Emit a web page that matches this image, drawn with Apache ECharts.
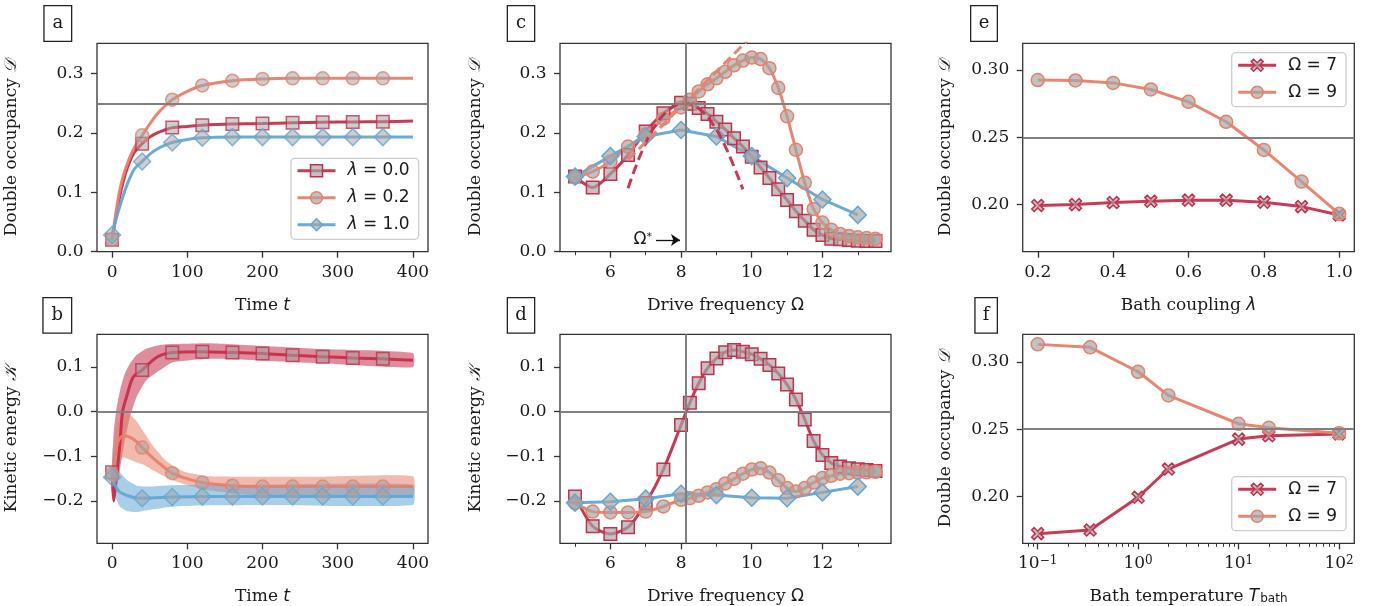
<!DOCTYPE html>
<html><head><meta charset="utf-8">
<script src="https://cdn.jsdelivr.net/npm/echarts@6/dist/echarts.min.js"></script>
<style>html,body{margin:0;padding:0;background:#fff}#c{width:1376px;height:606px}</style>
</head><body><div id="c"></div><script>
// ---------------- DATA ----------------
// Panel a : double occupancy vs time
const tA     = [0,5,10,15,20,25,30,40,50,60,70,80,100,120,160,200,240,280,320,360,400];
const aRed   = [0.020,0.058,0.092,0.119,0.140,0.156,0.168,0.182,0.193,0.200,0.205,0.209,0.211,0.213,0.215,0.216,0.217,0.218,0.2185,0.219,0.220];
const aOrg   = [0.021,0.064,0.102,0.128,0.147,0.163,0.176,0.196,0.215,0.232,0.245,0.256,0.270,0.280,0.288,0.291,0.292,0.292,0.292,0.292,0.292];
const aBlue  = [0.028,0.053,0.075,0.095,0.113,0.128,0.140,0.152,0.164,0.173,0.179,0.184,0.189,0.192,0.193,0.193,0.193,0.193,0.193,0.193,0.193];
const tMk    = [0,40,80,120,160,200,240,280,320,360];
const aRedMk = [0.020,0.182,0.209,0.213,0.215,0.216,0.217,0.218,0.2185,0.219];
const aOrgMk = [0.021,0.196,0.256,0.280,0.288,0.291,0.292,0.292,0.292,0.292];
const aBlueMk= [0.028,0.152,0.184,0.192,0.193,0.193,0.193,0.193,0.193,0.193];
// Panel b : kinetic energy vs time
const tBR   = [0,2,5,8,11,14,20,28,40,60,80,120,160,200,240,280,320,360,400];
const bRed  = [-0.136,-0.200,-0.160,-0.115,-0.060,0.000,0.037,0.077,0.093,0.122,0.132,0.134,0.132,0.130,0.126,0.123,0.120,0.118,0.115];
const tBRb  = [0,2,6,11,17,24,33,46,64,80,130,200,280,400];
const bRedHi= [-0.125,-0.050,0.008,0.050,0.085,0.108,0.127,0.141,0.149,0.151,0.153,0.147,0.140,0.131];
const bRedLo= [-0.150,-0.205,-0.170,-0.125,-0.065,-0.011,0.034,0.071,0.093,0.110,0.118,0.114,0.108,0.099];
const tBO   = [0,4,8,12,17,24,33,40,55,73,80,95,120,160,200,240,280,320,360,400];
const bOrg  = [-0.140,-0.097,-0.067,-0.057,-0.055,-0.058,-0.068,-0.0805,-0.105,-0.130,-0.138,-0.148,-0.159,-0.166,-0.168,-0.168,-0.168,-0.168,-0.168,-0.168];
const tBOb  = [0,4,8,15,24,33,42,55,73,95,130,200,280,400];
const bOrgHi= [-0.130,-0.060,-0.020,-0.007,-0.007,-0.022,-0.045,-0.078,-0.112,-0.134,-0.145,-0.146,-0.146,-0.145];
const bOrgLo= [-0.150,-0.135,-0.115,-0.103,-0.108,-0.114,-0.119,-0.132,-0.148,-0.162,-0.177,-0.190,-0.190,-0.190];
const tBB   = [0,4,10,20,30,40,80,120,160,200,240,280,320,360,400];
const bBlue = [-0.147,-0.165,-0.180,-0.188,-0.193,-0.194,-0.1915,-0.190,-0.190,-0.190,-0.190,-0.190,-0.190,-0.190,-0.190];
const tBBb  = [0,1,4,10,20,33,46,80,130,200,400];
const bBlueHi=[-0.140,-0.080,-0.108,-0.134,-0.153,-0.166,-0.168,-0.165,-0.164,-0.164,-0.164];
const bBlueLo=[-0.150,-0.200,-0.190,-0.212,-0.223,-0.225,-0.221,-0.213,-0.210,-0.209,-0.209];
const bRedMk = [-0.136,0.093,0.132,0.134,0.132,0.130,0.126,0.123,0.120,0.118];
const bOrgMk = [-0.140,-0.0805,-0.138,-0.159,-0.166,-0.168,-0.168,-0.168,-0.168,-0.168];
const bBlueMk= [-0.147,-0.194,-0.1915,-0.190,-0.190,-0.190,-0.190,-0.190,-0.190,-0.190];
// Panels c, d : vs drive frequency
const omF   = [5,5.5,6,6.5,7,7.5,8,8.25,8.5,8.75,9,9.25,9.5,9.75,10,10.25,10.5,10.75,11,11.25,11.5,11.75,12,12.25,12.5,12.75,13,13.25,13.5];
const cRed  = [0.1265,0.108,0.131,0.163,0.2025,0.233,0.251,0.249,0.242,0.232,0.219,0.206,0.191,0.177,0.160,0.142,0.124,0.105,0.087,0.068,0.052,0.037,0.028,0.022,0.021,0.0197,0.0186,0.018,0.018];
const cOrg  = [0.125,0.135,0.152,0.177,0.198,0.224,0.243,0.256,0.270,0.282,0.292,0.303,0.314,0.322,0.327,0.3245,0.309,0.276,0.228,0.1715,0.116,0.072,0.049,0.037,0.030,0.0265,0.0243,0.023,0.022];
const omB   = [5,6,7,8,9,10,11,12,13];
const cBlue = [0.1265,0.161,0.194,0.205,0.194,0.161,0.124,0.088,0.062];
const omDR  = [6.5,6.9,7.3,7.7,8.1,8.5,8.9,9.3,9.75];
const cDashRed = [0.107,0.170,0.215,0.241,0.250,0.241,0.215,0.171,0.105];
const omDO  = [6.5,8.1,9.95];
const cDashOrg = [0.155,0.250,0.360];
const dRed  = [-0.190,-0.257,-0.274,-0.259,-0.205,-0.130,-0.030,0.020,0.0635,0.097,0.119,0.133,0.138,0.134,0.1285,0.118,0.1045,0.085,0.0605,0.027,-0.018,-0.066,-0.097,-0.115,-0.123,-0.127,-0.129,-0.131,-0.133];
const dOrg  = [-0.205,-0.224,-0.226,-0.226,-0.224,-0.2125,-0.1975,-0.194,-0.1886,-0.181,-0.1737,-0.161,-0.151,-0.139,-0.130,-0.127,-0.1365,-0.154,-0.1714,-0.179,-0.1714,-0.159,-0.149,-0.144,-0.139,-0.138,-0.1365,-0.136,-0.135];
const dBlue = [-0.204,-0.202,-0.195,-0.184,-0.187,-0.193,-0.194,-0.181,-0.168];
const omStar = 8.12;
// Panel e : vs bath coupling
const lamE  = [0.2,0.3,0.4,0.5,0.6,0.7,0.8,0.9,1.0];
const e7    = [0.1993,0.2000,0.2015,0.2025,0.2033,0.2033,0.2018,0.1985,0.1923];
const e9    = [0.2925,0.2922,0.2904,0.2855,0.2763,0.2615,0.2406,0.2171,0.1931];
// Panel f : vs bath temperature
const tempF = [0.1,0.333,1,2,10,20,100];
const f7    = [0.1722,0.1749,0.1993,0.2203,0.2426,0.2451,0.2464];
const f9    = [0.3131,0.3109,0.2927,0.2751,0.2540,0.2510,0.2469];
// tick labels
const ticksT   = [0,100,200,300,400];
const ticksDa  = [0,0.1,0.2,0.3];
const ticksK   = [-0.2,-0.1,0,0.1];
const ticksOm  = [6,8,10,12];
const ticksOmMinor = [5,7,9,11,13];
const ticksLam = [0.2,0.4,0.6,0.8,1.0];
const ticksDe  = [0.20,0.25,0.30];
const ticksTemp= [0.1,1,10,100];
const ticksTempMinor = [0.08,0.09,0.2,0.3,0.4,0.5,0.6,0.7,0.8,0.9,2,3,4,5,6,7,8,9,20,30,40,50,60,70,80,90];
const legA = ['λ = 0.0','λ = 0.2','λ = 1.0'];
const legE = ['Ω = 7','Ω = 9'];

// ---------------- STYLE ----------------
const SERIF='DejaVu Serif', SANS='DejaVu Sans';
const TXT='#1a1a1a', FS=17;
const RED='#c4304b', ORG='#e8806a', BLU='#62a7d6';
const MKFILL='rgba(165,165,165,0.68)';
const FRAME='#333333';
const XPATH='path://M2,0 L5,3 L8,0 L10,2 L7,5 L10,8 L8,10 L5,7 L2,10 L0,8 L3,5 L0,2 Z';
const zip=(xs,ys)=>xs.map((x,i)=>[x,ys[i]]);
const rich = {
  i:{fontFamily:SANS,fontStyle:'italic',fontSize:FS,color:TXT},
  u:{fontFamily:SANS,fontSize:FS,color:TXT},
  sub:{fontFamily:SANS,fontSize:12,color:TXT,verticalAlign:'bottom',lineHeight:10,padding:[0,0,0,1]},
  sup:{fontFamily:SERIF,fontSize:12,color:TXT,verticalAlign:'top',lineHeight:12}
};
const f1=v=>(v<-1e-9?'−':'')+Math.abs(v).toFixed(1);
const f2=v=>Math.abs(v).toFixed(2);

const grid=[
 {left:97,top:43.3,width:331,height:208.4},
 {left:97,top:334.3,width:331,height:209},
 {left:560,top:43.3,width:331,height:208.4},
 {left:560,top:334.3,width:331,height:209},
 {left:1022.7,top:43.3,width:331.6,height:208.4},
 {left:1022.7,top:334.3,width:331.6,height:209}
].map(g=>Object.assign({show:true,borderColor:FRAME,borderWidth:1.3,backgroundColor:'transparent',containLabel:false,outerBoundsMode:'none'},g));

function ax(dim,g,min,max,ticks,fmt,name,gap,extra){
  return Object.assign({
    type:'value',gridIndex:g,min,max,position:dim==='x'?'bottom':'left',
    axisLine:{show:false,onZero:false},splitLine:{show:false},
    axisTick:{show:true,customValues:ticks,length:6,lineStyle:{color:FRAME,width:1.3}},
    axisLabel:{show:true,customValues:ticks,formatter:fmt,fontFamily:SERIF,fontSize:FS,color:TXT,margin:dim==='x'?12:13.5,rich:rich},
    name,nameLocation:'middle',nameGap:gap,
    nameTextStyle:{fontFamily:SERIF,fontSize:FS,color:TXT,rich:rich}
  },extra||{});
}
function minorAx(g,min,max,ticks,type){
  return {type:type||'value',gridIndex:g,min,max,position:'bottom',
    axisLine:{show:false,onZero:false},splitLine:{show:false},axisLabel:{show:false},
    axisTick:{show:true,customValues:ticks,length:3.5,lineStyle:{color:FRAME,width:1}}};
}
const DNAME='Double occupancy {i|𝒟}';
const KNAME='Kinetic energy {i|𝒦}';
const xAxis=[
  ax('x',0,-20,420,ticksT,v=>String(v),'Time {i|t}',45),
  ax('x',1,-20,420,ticksT,v=>String(v),'Time {i|t}',45),
  ax('x',2,4.575,13.94,ticksOm,v=>String(v),'Drive frequency {u|Ω}',45),
  ax('x',3,4.575,13.94,ticksOm,v=>String(v),'Drive frequency {u|Ω}',45),
  ax('x',4,0.16,1.04,ticksLam,v=>v.toFixed(1),'Bath coupling {i|λ}',45),
  ax('x',5,0.07096,141.9,ticksTemp,v=>{const e=Math.round(Math.log10(v));return '10{sup|'+(e<0?'−':'')+Math.abs(e)+'}';},'Bath temperature {i|T}{sub|bath}',45,{type:'log',logBase:10}),
  minorAx(2,4.575,13.94,ticksOmMinor),
  minorAx(3,4.575,13.94,ticksOmMinor),
  minorAx(5,0.07096,141.9,ticksTempMinor,'log')
];
xAxis[8].logBase=10;
const yAxis=[
  ax('y',0,0,0.351,ticksDa,f1,DNAME,76.5),
  ax('y',1,-0.295,0.173,ticksK,f1,KNAME,76.5),
  ax('y',2,0,0.351,ticksDa,f1,DNAME,76),
  ax('y',3,-0.295,0.173,ticksK,f1,KNAME,76),
  ax('y',4,0.165,0.3198,ticksDe,f2,DNAME,69),
  ax('y',5,0.165,0.3206,ticksDe,f2,DNAME,69)
];

function refLine(g,items){
  return {type:'line',xAxisIndex:g,yAxisIndex:g,data:[],silent:true,z:1,
    markLine:{silent:true,symbol:'none',animation:false,label:{show:false},
      lineStyle:{color:'#808080',width:2,type:'solid',opacity:1},data:items}};
}
function line(name,g,xs,ys,color,o){
  o=o||{};
  return {type:'line',name,xAxisIndex:g,yAxisIndex:g,data:zip(xs,ys),
    symbol:o.symbol||'none',symbolSize:o.size||10,showSymbol:!!o.show,showAllSymbol:true,
    smooth:o.smooth||false,smoothMonotone:o.mono||null,
    lineStyle:{color,width:o.width||3,type:o.dash||'solid',opacity:0.95},
    itemStyle:{color:MKFILL,borderColor:color,borderWidth:1.5},
    silent:true,z:o.z||3,clip:true};
}
function marks(g,xs,ys,color,symbol,size){
  return {type:'scatter',xAxisIndex:g,yAxisIndex:g,data:zip(xs,ys),symbol,symbolSize:size,
    itemStyle:{color:MKFILL,borderColor:color,borderWidth:1.5},silent:true,z:3};
}
// shaded uncertainty band: polygon through upper then lower values, positioned by the axes
function band(g,xs,lo,hi,color){
  return {type:'custom',xAxisIndex:g,yAxisIndex:g,silent:true,z:2,clip:true,
    data:xs.map((x,i)=>[x,lo[i],hi[i]]),encode:{x:0,y:[1,2]},
    renderItem:(params,api)=>{
      if(params.dataIndex!==0) return null;
      const pts=[];
      for(let i=0;i<xs.length;i++) pts.push(api.coord([xs[i],hi[i]]));
      for(let i=xs.length-1;i>=0;i--) pts.push(api.coord([xs[i],lo[i]]));
      return {type:'polygon',shape:{points:pts,smooth:0.15},style:{fill:color}};
    }};
}

const series=[
  // a
  refLine(0,[{yAxis:0.25}]),
  line(legA[0],0,tA,aRed,RED,{symbol:'rect',smooth:0.3}),
  marks(0,tMk,aRedMk,RED,'rect',12.5),
  line(legA[1],0,tA,aOrg,ORG,{symbol:'circle',smooth:0.3}),
  marks(0,tMk,aOrgMk,ORG,'circle',13),
  line(legA[2],0,tA,aBlue,BLU,{symbol:'diamond',smooth:0.3}),
  marks(0,tMk,aBlueMk,BLU,'diamond',17),
  // b
  refLine(1,[{yAxis:0}]),
  band(1,tBRb,bRedLo,bRedHi,'rgba(196,48,75,0.55)'),
  band(1,tBOb,bOrgLo,bOrgHi,'rgba(232,128,106,0.55)'),
  band(1,tBBb,bBlueLo,bBlueHi,'rgba(98,167,214,0.55)'),
  line('bR',1,tBR,bRed,RED,{smooth:0.3}),
  marks(1,tMk,bRedMk,RED,'rect',12.5),
  line('bO',1,tBO,bOrg,ORG,{smooth:0.3}),
  marks(1,tMk,bOrgMk,ORG,'circle',13),
  line('bB',1,tBB,bBlue,BLU,{smooth:0.3}),
  marks(1,tMk,bBlueMk,BLU,'diamond',17),
  // c
  refLine(2,[{xAxis:omStar},{yAxis:0.25}]),
  line('cR',2,omF,cRed,RED,{symbol:'rect',size:12.5,show:true,smooth:0.25}),
  line('cO',2,omF,cOrg,ORG,{symbol:'circle',size:13,show:true,smooth:0.25}),
  line('cB',2,omB,cBlue,BLU,{symbol:'diamond',size:17,show:true}),
  line('cDR',2,omDR,cDashRed,RED,{dash:[10,5],smooth:0.4,z:4}),
  Object.assign(line('cDO',2,omDO,cDashOrg,ORG,{dash:[10,5],z:4}),{
    markLine:{silent:true,animation:false,symbol:['none','arrow'],symbolSize:9,
      lineStyle:{color:'#111',width:1.3,type:'solid'},
      label:{show:true,position:'start',distance:4,formatter:'{a|Ω}{s|*}',
        rich:{a:{fontFamily:SANS,fontSize:FS,color:TXT},s:{fontFamily:SANS,fontSize:11,color:TXT,verticalAlign:'top',lineHeight:11}}},
      data:[[{coord:[7.29,0.0197]},{coord:[7.97,0.0197]}]]}}),
  // d
  refLine(3,[{xAxis:omStar},{yAxis:0}]),
  line('dR',3,omF,dRed,RED,{symbol:'rect',size:12.5,show:true,smooth:0.25}),
  line('dO',3,omF,dOrg,ORG,{symbol:'circle',size:13,show:true,smooth:0.25}),
  line('dB',3,omB,dBlue,BLU,{symbol:'diamond',size:17,show:true}),
  // e
  refLine(4,[{yAxis:0.25}]),
  line(legE[0],4,lamE,e7,RED,{symbol:XPATH,size:12,show:true}),
  line(legE[1],4,lamE,e9,ORG,{symbol:'circle',size:13,show:true}),
  // f
  refLine(5,[{yAxis:0.25}]),
  line('f7',5,tempF,f7,RED,{symbol:XPATH,size:12,show:true}),
  line('f9',5,tempF,f9,ORG,{symbol:'circle',size:13,show:true})
];

function legend(left,top,names,colors){
  return {show:true,orient:'vertical',left,top,selectedMode:false,
    itemWidth:38,itemHeight:15,itemGap:10,padding:[4,9,6,5],
    backgroundColor:'rgba(255,255,255,0.85)',borderColor:'#cccccc',borderWidth:1.3,borderRadius:4,
    data:names.map((n,i)=>({name:n,itemStyle:{color:MKFILL,borderColor:colors[i],borderWidth:1.5},lineStyle:{color:colors[i],width:3}})),
    formatter:n=>n.replace('λ','{i|λ}'),
    textStyle:{fontFamily:SANS,fontSize:FS,color:TXT,padding:[0,0,0,7],lineHeight:17,rich:{i:{fontFamily:SANS,fontStyle:'italic',fontSize:FS,color:TXT,lineHeight:17}}}};
}
const legends=[
  legend(291,158.3,legA,[RED,ORG,BLU]),
  legend(1231.7,52.7,legE,[RED,ORG]),
  legend(1231.7,476.7,legE,[RED,ORG])
];

const boxes=[['a',43.3,5,27.7,35.7],['b',42.3,297,28.7,35.5],['c',506.7,5,27.3,35.7],['d',506.7,297,27.3,35.5],['e',970,5,26.7,35.7],['f',974.3,297,22.4,35.5]];
const graphic=boxes.map(b=>({type:'group',left:b[1],top:b[2],children:[
  {type:'rect',shape:{x:0,y:0,width:b[3],height:b[4]},style:{fill:'#fff',stroke:'#222',lineWidth:1.3}},
  {type:'text',x:b[3]/2,y:b[4]/2,style:{text:b[0],font:'18px "DejaVu Serif"',fill:TXT,align:'center',verticalAlign:'middle',textAlign:'center',textVerticalAlign:'middle'}}
]}));

const chart=echarts.init(document.getElementById('c'),null,{renderer:'canvas'});
chart.setOption({animation:false,backgroundColor:'#fff',textStyle:{fontFamily:SERIF},
  grid,xAxis,yAxis,legend:legends,series,graphic});
</script></body></html>
